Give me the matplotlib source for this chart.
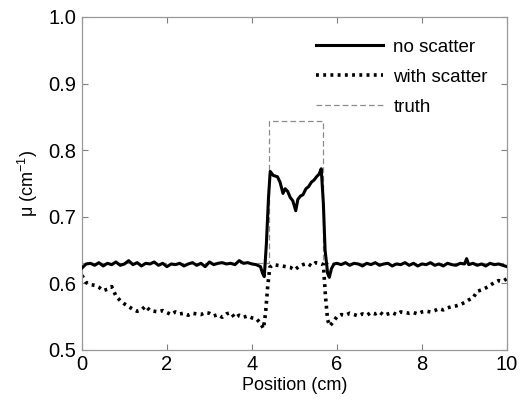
import matplotlib

matplotlib.use("Agg")

import matplotlib.pyplot as plt


# values
NO_SCATTER_X = [
    0.0, 0.1, 0.2, 0.3, 0.4, 0.5, 0.6, 0.7, 0.8, 0.9,
    1.0, 1.1, 1.2, 1.3, 1.4, 1.5, 1.6, 1.7, 1.8, 1.9,
    2.0, 2.1, 2.2, 2.3, 2.4, 2.5, 2.6, 2.7, 2.8, 2.9,
    3.0, 3.1, 3.2, 3.3, 3.4, 3.5, 3.6, 3.7, 3.8, 3.9,
    4.0, 4.1, 4.2, 4.25, 4.29, 4.34, 4.39, 4.43, 4.5, 4.6,
    4.66, 4.73, 4.78, 4.84, 4.9, 4.96, 5.03, 5.08, 5.14, 5.2,
    5.27, 5.33, 5.4, 5.46, 5.52, 5.58, 5.63, 5.68, 5.72, 5.78,
    5.82, 5.87, 5.93, 6.0, 6.1, 6.2, 6.3, 6.4, 6.5, 6.6,
    6.7, 6.8, 6.9, 7.0, 7.1, 7.2, 7.3, 7.4, 7.5, 7.6,
    7.7, 7.8, 7.9, 8.0, 8.1, 8.2, 8.3, 8.4, 8.5, 8.6,
    8.7, 8.8, 8.9, 9.0, 9.05, 9.1, 9.2, 9.3, 9.4, 9.5,
    9.6, 9.7, 9.8, 9.9, 10.0,
]
NO_SCATTER_MU = [
    0.623, 0.629, 0.630, 0.627, 0.631, 0.626, 0.630, 0.628, 0.632, 0.627,
    0.629, 0.634, 0.628, 0.631, 0.626, 0.630, 0.629, 0.632, 0.627, 0.630,
    0.625, 0.629, 0.628, 0.630, 0.626, 0.629, 0.631, 0.627, 0.630, 0.625,
    0.632, 0.628, 0.630, 0.631, 0.629, 0.630, 0.628, 0.634, 0.630, 0.631,
    0.629, 0.628, 0.625, 0.615, 0.610, 0.660, 0.730, 0.768, 0.762, 0.760,
    0.752, 0.735, 0.742, 0.738, 0.729, 0.724, 0.709, 0.726, 0.731, 0.733,
    0.742, 0.745, 0.752, 0.755, 0.760, 0.764, 0.772, 0.720, 0.650, 0.615,
    0.609, 0.622, 0.629, 0.630, 0.628, 0.631, 0.627, 0.630, 0.629, 0.626,
    0.630, 0.628, 0.631, 0.627, 0.629, 0.630, 0.626, 0.629, 0.628, 0.631,
    0.627, 0.630, 0.626, 0.629, 0.628, 0.631, 0.627, 0.629, 0.626, 0.630,
    0.628, 0.627, 0.630, 0.629, 0.637, 0.628, 0.630, 0.627, 0.629, 0.626,
    0.630, 0.628, 0.629, 0.627, 0.625,
]

WITH_SCATTER_X = [
    0.0, 0.1, 0.2, 0.3, 0.4, 0.5, 0.6, 0.7, 0.8, 0.9,
    1.0, 1.1, 1.2, 1.3, 1.4, 1.5, 1.6, 1.7, 1.8, 1.9,
    2.0, 2.1, 2.2, 2.3, 2.4, 2.5, 2.6, 2.7, 2.8, 2.9,
    3.0, 3.1, 3.2, 3.3, 3.4, 3.5, 3.6, 3.7, 3.8, 3.9,
    4.0, 4.1, 4.2, 4.27, 4.32, 4.37, 4.42, 4.5, 4.6, 4.7,
    4.8, 4.9, 5.0, 5.1, 5.2, 5.3, 5.4, 5.5, 5.6, 5.68,
    5.73, 5.78, 5.83, 5.9, 6.0, 6.1, 6.2, 6.3, 6.4, 6.5,
    6.6, 6.7, 6.8, 6.9, 7.0, 7.1, 7.2, 7.3, 7.4, 7.5,
    7.6, 7.7, 7.8, 7.9, 8.0, 8.1, 8.2, 8.3, 8.4, 8.5,
    8.6, 8.7, 8.8, 8.9, 9.0, 9.1, 9.2, 9.3, 9.4, 9.5,
    9.6, 9.7, 9.8, 9.9, 10.0,
]
WITH_SCATTER_MU = [
    0.612, 0.601, 0.598, 0.597, 0.594, 0.589, 0.591, 0.595, 0.581, 0.574,
    0.569, 0.565, 0.561, 0.558, 0.560, 0.566, 0.559, 0.558, 0.557, 0.559,
    0.556, 0.553, 0.557, 0.554, 0.555, 0.552, 0.555, 0.554, 0.553, 0.556,
    0.555, 0.551, 0.553, 0.549, 0.554, 0.556, 0.548, 0.552, 0.549, 0.551,
    0.548, 0.547, 0.540, 0.532, 0.555, 0.595, 0.624, 0.628, 0.627, 0.626,
    0.625, 0.624, 0.620, 0.625, 0.628, 0.630, 0.626, 0.631, 0.630, 0.628,
    0.580, 0.545, 0.536, 0.541, 0.550, 0.553, 0.552, 0.555, 0.553, 0.551,
    0.554, 0.552, 0.556, 0.554, 0.557, 0.552, 0.554, 0.556, 0.553, 0.557,
    0.556, 0.555, 0.556, 0.554, 0.557, 0.558, 0.557, 0.559, 0.562, 0.560,
    0.563, 0.565, 0.566, 0.568, 0.571, 0.575, 0.578, 0.588, 0.590, 0.593,
    0.597, 0.601, 0.604, 0.603, 0.607,
]

TRUTH_X = [0.0, 4.39, 4.39, 5.68, 5.68, 10.0]
TRUTH_MU = [0.63, 0.63, 0.844, 0.844, 0.63, 0.63]

X_TICKS = [0, 2, 4, 6, 8, 10]
Y_TICKS = [0.5, 0.6, 0.7, 0.8, 0.9, 1.0]


def plot_profiles():
    plt.rcParams["font.family"] = ["Liberation Sans", "DejaVu Sans"]

    fig = plt.figure(figsize=(5.32, 4.04), dpi=100)
    ax = fig.add_axes([0.154, 0.134, 0.799, 0.824])

    ax.plot(TRUTH_X, TRUTH_MU, color="0.55", linewidth=0.9,
            dashes=(4.5, 2.5), label="truth", zorder=1)
    ax.plot(WITH_SCATTER_X, WITH_SCATTER_MU, color="black", linewidth=2.6,
            linestyle=(0, (0.8, 1.2)), label="with scatter", zorder=2)
    ax.plot(NO_SCATTER_X, NO_SCATTER_MU, color="black", linewidth=2.2,
            label="no scatter", zorder=3)

    ax.set_xlim(0, 10)
    ax.set_ylim(0.5, 1.0)
    ax.set_xticks(X_TICKS, [str(t) for t in X_TICKS])
    ax.set_yticks(Y_TICKS, [f"{t:.1f}" for t in Y_TICKS])
    ax.tick_params(direction="in", length=4, width=0.8, color="0.5",
                   top=True, right=True, labelsize=14.5, pad=4)
    for spine in ax.spines.values():
        spine.set_color("0.6")
        spine.set_linewidth(0.9)

    ax.set_xlabel("Position (cm)", fontsize=13, labelpad=2)
    ax.set_ylabel(r"μ (cm$^{\mathregular{-1}}$)", fontsize=13, labelpad=6)

    handles, labels = ax.get_legend_handles_labels()
    order = [2, 1, 0]
    ax.legend(
        [handles[i] for i in order],
        [labels[i] for i in order],
        loc="upper right",
        bbox_to_anchor=(0.995, 0.985),
        frameon=False,
        fontsize=13.5,
        handlelength=3.6,
        handletextpad=0.55,
        labelspacing=0.68,
    )

    fig.savefig("out.png", dpi=100)
    plt.close(fig)


if __name__ == "__main__":
    plot_profiles()
